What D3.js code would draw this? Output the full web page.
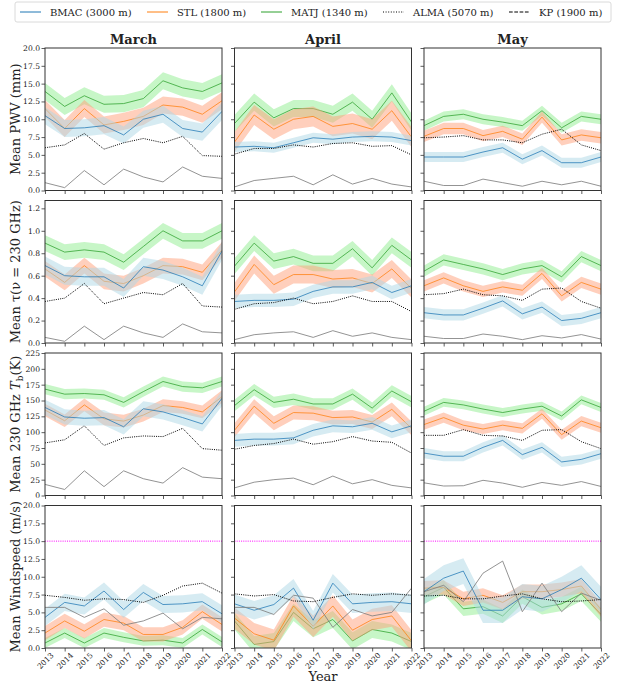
<!DOCTYPE html>
<html>
<head>
<meta charset="utf-8">
<script src="https://cdn.jsdelivr.net/npm/d3@7"></script>
<style>
  body { margin: 0; background: #fff; }
  text { font-family: "DejaVu Serif", serif; fill: #222; }
</style>
</head>
<body>
<svg id="chart" width="617" height="686"></svg>
<script>
"use strict";
const years = [2013, 2014, 2015, 2016, 2017, 2018, 2019, 2020, 2021, 2022];
const months = ["March", "April", "May"];

// mean precipitable water vapour (mm)
const pwvMarch = {
    BMAC: [10.5, 8.7, 8.8, 9.1, 7.8, 10.0, 10.7, 8.7, 8.2, 11.1],
    STL:  [11.5, 8.7, 11.5, 9.2, 9.7, 10.4, 12.0, 11.7, 10.7, 12.6],
    MATJ: [13.9, 11.8, 13.3, 12.1, 12.2, 12.9, 15.4, 14.4, 13.9, 15.1],
    ALMA: [1.1, 0.4, 2.8, 0.8, 3.0, 1.9, 1.2, 3.3, 2.0, 1.7],
    KP:   [6.0, 6.4, 8.0, 5.8, 6.7, 7.3, 6.7, 7.6, 4.9, 4.8]
};
const pwvApril = {
    BMAC: [6.1, 6.2, 6.0, 6.7, 7.4, 7.2, 7.5, 7.6, 7.5, 7.0],
    STL:  [6.8, 10.6, 8.6, 10.0, 10.4, 9.0, 9.4, 8.6, 11.2, 7.5],
    MATJ: [9.4, 12.4, 10.2, 11.5, 11.5, 10.7, 12.4, 10.0, 13.7, 9.6],
    ALMA: [0.5, 1.4, 1.7, 2.0, 0.8, 2.2, 0.9, 1.7, 0.9, 0.5],
    KP:   [5.1, 5.9, 5.9, 6.4, 6.1, 6.6, 6.7, 6.2, 6.3, 5.0]
};
const pwvMay = {
    BMAC: [4.7, 4.7, 4.7, 5.4, 6.0, 4.4, 5.6, 3.9, 3.9, 4.7],
    STL:  [7.6, 8.7, 8.7, 7.7, 8.3, 7.2, 10.3, 7.1, 7.8, 7.4],
    MATJ: [9.1, 10.4, 10.7, 10.0, 9.6, 9.1, 11.2, 8.8, 10.4, 10.0],
    ALMA: [1.3, 0.7, 0.7, 1.6, 1.1, 0.6, 1.3, 0.8, 1.3, 0.6],
    KP:   [7.4, 7.5, 7.7, 7.1, 7.1, 6.7, 7.9, 8.6, 6.4, 5.6]
};

// mean opacity at 230 GHz
const tauMarch = {
    BMAC: [0.69, 0.60, 0.59, 0.59, 0.49, 0.68, 0.65, 0.59, 0.51, 0.82],
    STL:  [0.66, 0.54, 0.69, 0.55, 0.53, 0.60, 0.69, 0.68, 0.63, 0.83],
    MATJ: [0.89, 0.81, 0.83, 0.81, 0.72, 0.86, 1.00, 0.91, 0.91, 1.00],
    ALMA: [0.05, 0.015, 0.15, 0.03, 0.15, 0.09, 0.05, 0.17, 0.10, 0.09],
    KP:   [0.37, 0.40, 0.53, 0.35, 0.40, 0.45, 0.43, 0.53, 0.33, 0.32]
};
const tauApril = {
    BMAC: [0.37, 0.38, 0.38, 0.39, 0.46, 0.50, 0.50, 0.54, 0.45, 0.51],
    STL:  [0.455, 0.70, 0.52, 0.61, 0.61, 0.57, 0.58, 0.53, 0.66, 0.485],
    MATJ: [0.685, 0.89, 0.73, 0.77, 0.71, 0.71, 0.84, 0.67, 0.87, 0.74],
    ALMA: [0.03, 0.074, 0.09, 0.10, 0.05, 0.11, 0.06, 0.09, 0.05, 0.03],
    KP:   [0.30, 0.35, 0.36, 0.40, 0.35, 0.37, 0.42, 0.37, 0.37, 0.28]
};
const tauMay = {
    BMAC: [0.27, 0.25, 0.25, 0.31, 0.375, 0.26, 0.32, 0.20, 0.22, 0.27],
    STL:  [0.51, 0.58, 0.51, 0.46, 0.50, 0.47, 0.62, 0.42, 0.54, 0.48],
    MATJ: [0.64, 0.74, 0.70, 0.66, 0.61, 0.66, 0.69, 0.59, 0.77, 0.69],
    ALMA: [0.06, 0.04, 0.04, 0.08, 0.06, 0.03, 0.065, 0.045, 0.075, 0.035],
    KP:   [0.43, 0.44, 0.48, 0.43, 0.42, 0.38, 0.48, 0.49, 0.37, 0.31]
};

// mean sky brightness temperature at 230 GHz (K)
const tbMarch = {
    BMAC: [139, 124, 122, 123, 108.5, 137, 132, 123, 113, 153.5],
    STL:  [135, 118, 143, 121, 117.5, 127, 142, 139, 132, 156],
    MATJ: [168, 160, 161, 159, 147, 164, 180, 172, 170, 180],
    ALMA: [17.5, 9.5, 39, 14, 39, 26.5, 19.6, 44, 29, 26.5],
    KP:   [83, 88, 110, 79, 91, 94, 93, 106, 74, 71.5]
};
const tbApril = {
    BMAC: [87, 89, 89, 91, 103, 110, 108.5, 114, 100.5, 110],
    STL:  [103, 141, 114, 131, 130, 123, 124, 116, 136, 106],
    MATJ: [142, 167, 147, 152, 144.5, 144.5, 160, 138, 165, 148],
    ALMA: [12, 21, 25, 27.5, 17, 30.7, 18.5, 25, 16, 12],
    KP:   [73, 79, 82, 89, 81, 85, 93, 86, 84, 67]
};
const tbMay = {
    BMAC: [67, 62, 62, 76, 87, 64.5, 76, 53, 57, 66],
    STL:  [112, 123, 111, 105, 111, 106, 129, 96, 117.5, 107],
    MATJ: [133, 147, 143, 136.5, 131, 136.5, 141, 125.5, 151, 139],
    ALMA: [20, 15, 15.4, 24, 19.6, 13, 20.6, 16, 22, 14.3],
    KP:   [95, 95, 104, 95, 94, 87, 103, 104, 85, 74]
};

// mean windspeed (m/s)
const windMarch = {
    BMAC: [4.3, 6.4, 5.9, 8.0, 5.4, 7.8, 6.1, 6.2, 6.5, 4.8],
    STL:  [2.1, 3.8, 2.35, 4.0, 3.5, 1.9, 1.9, 2.9, 5.1, 3.3],
    MATJ: [0.7, 2.1, 0.7, 2.1, 1.5, 1.0, 1.1, 0.7, 2.6, 0.85],
    ALMA: [5.7, 5.7, 4.3, 5.5, 3.2, 3.8, 4.9, 2.7, 4.3, 4.1],
    KP:   [7.4, 7.1, 6.7, 6.9, 6.8, 6.4, 7.4, 8.7, 9.1, 7.7]
};
const windApril = {
    BMAC: [6.2, 5.3, 6.1, 8.4, 3.9, 9.1, 6.2, 6.4, 6.5, 6.2],
    STL:  [4.2, 2.0, 1.1, 5.9, 3.05, 5.9, 2.5, 4.0, 4.5, 1.0],
    MATJ: [3.8, 0.5, 0.9, 5.0, 2.7, 4.0, 1.0, 2.6, 2.1, 0.9],
    ALMA: [5.7, 5.7, 4.7, 7.4, 7.0, 2.9, 5.4, 4.5, 5.0, 8.4],
    KP:   [7.6, 7.3, 7.5, 6.6, 6.5, 7.1, 7.6, 7.4, 7.6, 7.4]
};
const windMay = {
    BMAC: [7.9, 9.8, 10.8, 5.3, 5.3, 7.2, 6.9, 8.2, 9.8, 6.8],
    STL:  [8.4, 8.5, 6.9, 7.4, 6.4, 7.9, 7.9, 8.2, 8.7, 5.4],
    MATJ: [7.2, 8.5, 5.5, 5.8, 4.5, 7.2, 5.7, 6.2, 7.6, 4.7],
    ALMA: [7.9, 8.8, 6.5, 10.5, 12.2, 5.1, 9.1, 5.1, 7.7, 6.7],
    KP:   [7.3, 7.4, 6.9, 6.9, 7.3, 7.6, 6.9, 6.5, 6.6, 6.8]
};

// half width of the shaded spread, per month: [March, April, May]
const pwvSpread  = { BMAC: [1.2, 0.7, 0.7], STL: [1.2, 1.4, 0.8], MATJ: [1.2, 1.2, 0.7] };
const tauSpread  = { BMAC: [0.08, 0.06, 0.05], STL: [0.07, 0.08, 0.05], MATJ: [0.07, 0.07, 0.05] };
const tbSpread   = { BMAC: [12, 10, 8], STL: [10, 11, 8], MATJ: [8, 9, 7] };
const windSpread = { BMAC: [1.2, 1.3, 1.8], STL: [1.0, 1.5, 1.0], MATJ: [0.7, 1.2, 1.0] };

const windLimit = 15;

const rows = [
    { label: "pwv", data: [pwvMarch, pwvApril, pwvMay], spread: pwvSpread, max: 20, ticks: d3.range(0, 20.01, 2.5), fmt: d3.format(".1f") },
    { label: "tau", data: [tauMarch, tauApril, tauMay], spread: tauSpread, max: 1.27, ticks: d3.range(0, 1.21, 0.2), fmt: d3.format(".1f") },
    { label: "tb", data: [tbMarch, tbApril, tbMay], spread: tbSpread, max: 225, ticks: d3.range(0, 226, 25), fmt: d3.format("d") },
    { label: "wind", data: [windMarch, windApril, windMay], spread: windSpread, max: 20, ticks: d3.range(0, 20.01, 2.5), fmt: d3.format(".1f") }
];

const stations = [
    { key: "BMAC", name: "BMAC (3000 m)", color: "#1f77b4", band: "#add8e6" },
    { key: "STL",  name: "STL (1800 m)",  color: "#ff7f0e", band: "#ffa07a" },
    { key: "MATJ", name: "MATJ (1340 m)", color: "#2ca02c", band: "#90ee90" }
];

const svg = d3.select("#chart");
const left0 = 45, pw = 177, colGap = 12.5;
const top0 = 48, ph = 142.5, rowGap = 10;

const x = d3.scaleLinear().domain([2013, 2022]).range([0, pw]);

// legend across the top
const legend = svg.append("g");
legend.append("rect").attr("x", 15).attr("y", 2).attr("width", 596).attr("height", 20)
    .attr("rx", 2).attr("fill", "#fff").attr("stroke", "#d0d0d0").attr("stroke-width", 0.8);
const legendItems = [
    { name: "BMAC (3000 m)", color: "#1f77b4", dash: null },
    { name: "STL (1800 m)", color: "#ff7f0e", dash: null },
    { name: "MATJ (1340 m)", color: "#2ca02c", dash: null },
    { name: "ALMA (5070 m)", color: "#000", dash: "1,1.6" },
    { name: "KP (1900 m)", color: "#000", dash: "3.7,1.6" }
];
const legendX = [20, 147, 261, 383, 509];
legendItems.forEach((d, i) => {
    legend.append("line").attr("x1", legendX[i]).attr("x2", legendX[i] + 21)
        .attr("y1", 12).attr("y2", 12)
        .attr("stroke", d.color).attr("stroke-width", 1)
        .attr("stroke-dasharray", d.dash);
    legend.append("text").attr("x", legendX[i] + 30).attr("y", 15.5)
        .attr("font-size", 10).text(d.name);
});

const defs = svg.append("defs");

rows.forEach((row, r) => {
    const y = d3.scaleLinear().domain([0, row.max]).range([ph, 0]);
    months.forEach((month, c) => {
        const g = svg.append("g")
            .attr("transform", `translate(${left0 + c * (pw + colGap)},${top0 + r * (ph + rowGap)})`);
        const clipId = `clip-${r}-${c}`;
        defs.append("clipPath").attr("id", clipId)
            .append("rect").attr("width", pw).attr("height", ph);
        const plot = g.append("g").attr("clip-path", `url(#${clipId})`);
        const data = row.data[c];

        const line = d3.line().x((d, i) => x(years[i])).y(d => y(d));

        // spreads and means, MATJ first so later bands sit on top
        ["MATJ", "STL", "BMAC"].forEach(k => {
            const st = stations.find(s => s.key === k);
            const s = row.spread[k][c];
            const area = d3.area().x((d, i) => x(years[i]))
                .y0(d => y(d - s)).y1(d => y(d + s));
            plot.append("path").attr("d", area(data[k]))
                .attr("fill", st.band).attr("fill-opacity", 0.5);
            plot.append("path").attr("d", line(data[k]))
                .attr("fill", "none").attr("stroke", st.color)
                .attr("stroke-opacity", 0.75).attr("stroke-width", 1);
        });
        plot.append("path").attr("d", line(data.ALMA))
            .attr("fill", "none").attr("stroke", "#808080")
            .attr("stroke-opacity", 0.85).attr("stroke-width", 1);
        plot.append("path").attr("d", line(data.KP))
            .attr("fill", "none").attr("stroke", "#000")
            .attr("stroke-width", 1).attr("stroke-dasharray", "1,1.2");

        if (row.label === "wind") {
            plot.append("line").attr("x1", 0).attr("x2", pw)
                .attr("y1", y(windLimit)).attr("y2", y(windLimit))
                .attr("stroke", "#ff00ff").attr("stroke-width", 1)
                .attr("stroke-dasharray", "1,1.2");
        }

        // axes
        const yAxis = d3.axisLeft(y).tickValues(row.ticks).tickSize(3.5).tickPadding(1.5)
            .tickFormat(c === 0 ? row.fmt : "");
        const ya = g.append("g").call(yAxis);
        const xAxis = d3.axisBottom(x).tickValues(years).tickSize(3.5).tickFormat("");
        const xa = g.append("g").attr("transform", `translate(0,${ph})`).call(xAxis);
        [ya, xa].forEach(a => {
            a.select(".domain").remove();
            a.selectAll(".tick line").attr("stroke", "#333").attr("stroke-width", 0.8);
            a.selectAll(".tick text").attr("font-size", 7.6)
                .attr("font-family", "DejaVu Serif, serif").attr("fill", "#333");
        });
        if (r === rows.length - 1) {
            xa.selectAll(".tick").append("text")
                .attr("font-size", 7.6).attr("font-family", "DejaVu Serif, serif").attr("fill", "#222")
                .attr("text-anchor", "middle").attr("dominant-baseline", "central")
                .attr("transform", "translate(0,13) rotate(-45)")
                .text(d => d);
        }
        g.append("rect").attr("width", pw).attr("height", ph)
            .attr("fill", "none").attr("stroke", "#333").attr("stroke-width", 1);

        if (r === 0) {
            g.append("text").attr("x", pw / 2).attr("y", -4).attr("text-anchor", "middle")
                .attr("font-size", 13).attr("font-weight", "bold").text(month);
        }
    });
});

// y axis labels
const yLabels = [
    "Mean PWV (mm)",
    "Mean \u03c4(\u03bd = 230 GHz)",
    null,
    "Mean Windspeed (m/s)"
];
yLabels.forEach((lab, r) => {
    const cy = top0 + r * (ph + rowGap) + ph / 2;
    const t = svg.append("text").attr("text-anchor", "middle").attr("font-size", 13)
        .attr("transform", `translate(20,${cy}) rotate(-90)`);
    if (lab) {
        t.text(lab);
    } else {
        t.append("tspan").text("Mean 230 GHz ");
        t.append("tspan").attr("font-style", "italic").text("T");
        t.append("tspan").attr("font-size", 9).attr("dy", 3).text("b");
        t.append("tspan").attr("dy", -3).text("(K)");
    }
});

svg.append("text").attr("x", left0 + (3 * pw + 2 * colGap) / 2).attr("y", 681)
    .attr("text-anchor", "middle").attr("font-size", 13).text("Year");
</script>
</body>
</html>
